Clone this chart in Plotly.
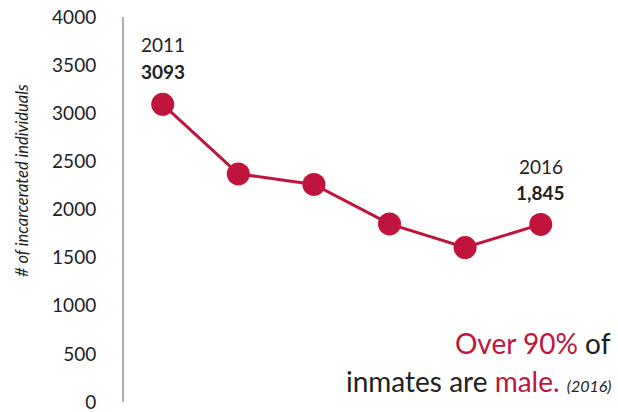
import plotly.graph_objects as go

years = [2011, 2012, 2013, 2014, 2015, 2016]
inmates = [3093, 2370, 2260, 1850, 1605, 1845]
y_ticks = [0, 500, 1000, 1500, 2000, 2500, 3000, 3500, 4000]

RED = "#c0143c"
DARK = "#222222"
FONT = "Lato"

W, H = 618, 412
L, R, T, B = 124, 0, 17, 10
pw, ph = W - L - R, H - T - B

def px(x):
    return (x - L) / pw

def py(y):
    return (H - B - y) / ph

fig = go.Figure()
fig.add_trace(go.Scatter(
    x=years, y=inmates, mode="lines+markers",
    line=dict(color=RED, width=3),
    marker=dict(color=RED, size=23),
    hoverinfo="skip", showlegend=False, cliponaxis=False,
))

x0 = years[0] - 38.7 / 75.6
x1 = x0 + pw / 75.6

annos = [
    dict(x=years[0], y=inmates[0], text=str(years[0]), yshift=60, font=dict(size=19, color=DARK)),
    dict(x=years[0], y=inmates[0], text="<b>%d</b>" % inmates[0], yshift=33, font=dict(size=19, color=DARK)),
    dict(x=years[-1], y=inmates[-1], text=str(years[-1]), yshift=58, font=dict(size=19, color=DARK)),
    dict(x=years[-1], y=inmates[-1], text="<b>{:,}</b>".format(inmates[-1]), yshift=32, font=dict(size=19, color=DARK)),
]
for a in annos:
    a.update(xref="x", yref="y", showarrow=False, xanchor="center", yanchor="middle")

annos += [
    dict(xref="paper", yref="paper", x=px(613), y=py(343), xanchor="right", yanchor="middle",
         text="<span style='color:%s'>Over 90%%</span> of" % RED,
         font=dict(size=28, color=DARK), showarrow=False),
    dict(xref="paper", yref="paper", x=px(613), y=py(381), xanchor="right", yanchor="middle",
         text="inmates are <span style='color:%s'>male.</span> <i><span style='font-size:16px'>(2016)</span></i>" % RED,
         font=dict(size=28, color=DARK), showarrow=False),
    dict(xref="paper", yref="paper", x=px(22), y=py(181), xanchor="center", yanchor="middle",
         text="<i># of incarcerated individuals</i>", textangle=-90,
         font=dict(size=16.5, color=DARK), showarrow=False),
]

fig.update_layout(
    width=W, height=H,
    margin=dict(l=L, r=R, t=T, b=B, autoexpand=False),
    paper_bgcolor="white", plot_bgcolor="white",
    font=dict(family=FONT, color=DARK),
    annotations=annos,
    xaxis=dict(range=[x0, x1], visible=False, fixedrange=True, automargin=False),
    yaxis=dict(range=[0, 4000], tickvals=y_ticks, ticktext=[str(v) for v in y_ticks],
               showgrid=False, zeroline=False, showline=True, linecolor="#b0b0b0", linewidth=2,
               ticks="", ticklabelstandoff=22, ticklabeloverflow="allow",
               tickfont=dict(size=19, color=DARK, family=FONT),
               fixedrange=True, automargin=False),
)

fig.write_html("out.html", config=dict(displayModeBar=False),
               post_script="document.body.style.margin='0';document.body.style.overflow='hidden';")
